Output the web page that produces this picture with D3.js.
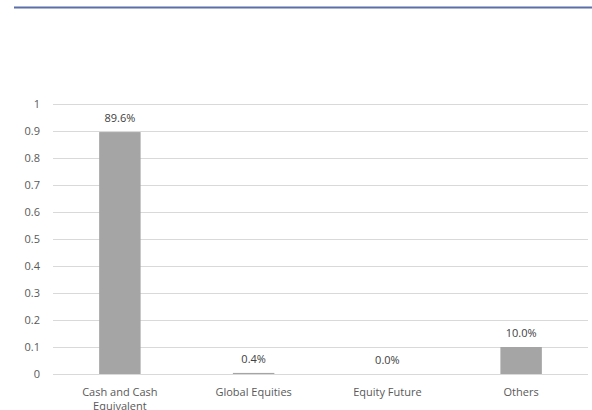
<!DOCTYPE html>
<html>
<head>
<meta charset="utf-8">
<script src="https://cdn.jsdelivr.net/npm/d3@7"></script>
<style>
  body { margin: 0; background: #fff; }
  text { font-family: "Open Sans", "Liberation Sans", sans-serif; }
</style>
</head>
<body>
<div id="chart"></div>
<script>
// asset allocation values
const categories = ["Cash and Cash Equivalent", "Global Equities", "Equity Future", "Others"]
const values = [0.896, 0.004, 0.0, 0.10]
const valueLabels = ["89.6%", "0.4%", "0.0%", "10.0%"]
const yTicks = [0, 0.1, 0.2, 0.3, 0.4, 0.5, 0.6, 0.7, 0.8, 0.9, 1]

var W = 592, H = 410
var margin = {top: 104, right: 4, bottom: 36, left: 53},
    width = W - margin.left - margin.right,
    height = H - margin.top - margin.bottom

var root = d3.select("#chart")
    .append("svg")
    .attr("width", W)
    .attr("height", H)

// header rule
root.append("line")
    .attr("x1", 14).attr("x2", W)
    .attr("y1", 7.5).attr("y2", 7.5)
    .attr("stroke", "#5b6fa9")
    .attr("stroke-width", 2)

var svg = root.append("g")
    .attr("transform", "translate(" + margin.left + "," + margin.top + ")")

var x = d3.scaleBand()
    .domain(categories)
    .range([0, width])
    .paddingInner(0.69)
    .paddingOuter(0.345)

var y = d3.scaleLinear()
    .domain([0, 1])
    .range([height, 0])

// gridlines
svg.append("g")
    .selectAll("line")
    .data(yTicks)
    .enter()
    .append("line")
    .attr("x1", 0)
    .attr("x2", width)
    .attr("y1", d => y(d) + 0.5)
    .attr("y2", d => y(d) + 0.5)
    .attr("stroke", "#d9d9d9")
    .attr("stroke-width", 1)

// y axis labels
var yAxis = svg.append("g")
    .call(d3.axisLeft(y).tickValues(yTicks).tickFormat(d => d3.format("")(+d.toFixed(1))).tickSize(0).tickPadding(13))
yAxis.select(".domain").remove()
yAxis.selectAll("text")
    .attr("fill", "#595959")
    .style("font-size", "11px")

// bars
svg.selectAll("bars")
    .data(categories)
    .enter()
    .append("rect")
    .attr("x", d => x(d))
    .attr("width", x.bandwidth())
    .attr("y", (d, i) => y(values[i]))
    .attr("height", (d, i) => height - y(values[i]))
    .attr("fill", "#a5a5a5")

// value labels
svg.selectAll("vals")
    .data(categories)
    .enter()
    .append("text")
    .attr("x", d => x(d) + x.bandwidth() / 2)
    .attr("y", (d, i) => y(values[i]) - 10)
    .attr("text-anchor", "middle")
    .attr("fill", "#404040")
    .style("font-size", "11px")
    .text((d, i) => valueLabels[i])

// x axis labels, wrapped
var xAxis = svg.append("g")
    .attr("transform", "translate(0," + height + ")")
    .call(d3.axisBottom(x).tickSize(0).tickPadding(0))
xAxis.select(".domain").remove()
xAxis.selectAll("text").remove()
xAxis.selectAll(".tick").each(function (d) {
    var t = d3.select(this).append("text")
        .attr("text-anchor", "middle")
        .attr("fill", "#595959")
        .style("font-size", "11px")
    var lines = d === "Cash and Cash Equivalent" ? ["Cash and Cash", "Equivalent"] : [d]
    lines.forEach((l, i) => {
        t.append("tspan").attr("x", 0).attr("y", 22 + i * 14).text(l)
    })
})
</script>
</body>
</html>
